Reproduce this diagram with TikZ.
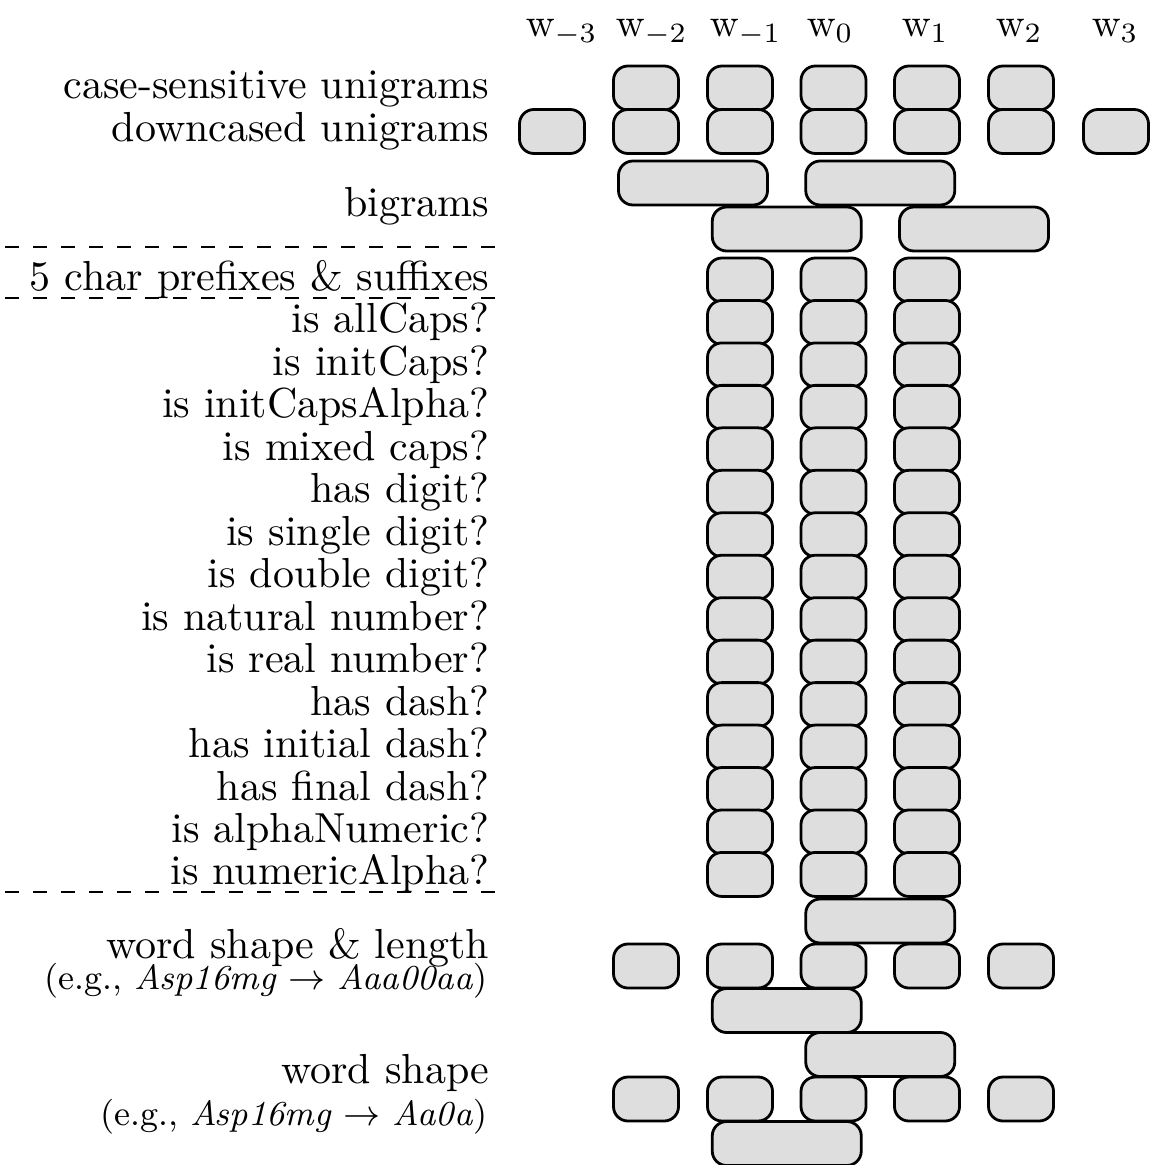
\documentclass[tikz,border=0pt]{standalone}
\definecolor{boxgray}{RGB}{222,222,222}
\begin{document}
\begin{tikzpicture}[x=0.25pt,y=-0.25pt,
  ubox/.style={draw, line width=0.7pt, fill=boxgray, rounded corners=3.6pt, minimum width=16.25pt, minimum height=11pt, inner sep=0pt},
  bbox/.style={ubox, minimum width=37.25pt},
  lab/.style={anchor=base east, inner sep=0pt, font=\fontsize{10.5}{12}\selectfont},
  exlab/.style={anchor=base east, inner sep=0pt, font=\fontsize{8.75}{10}\selectfont},
  hdr/.style={anchor=base west, inner sep=0pt, font=\fontsize{10.2}{12}\selectfont},
  sep/.style={line width=0.5pt, dash pattern=on 3.5pt off 3.5pt}]
\useasboundingbox (0,0) rectangle (1151,1165);
% column centres
\def\cma{552}\def\cmb{646}\def\cmc{740}\def\cz{833.5}\def\cpa{927}\def\cpb{1021}\def\cpc{1116}
% headers
\node[hdr] (h-3) at (525,37) {$\mathrm{w}_{-3}$};
\node[hdr] (h-2) at (615,37) {$\mathrm{w}_{-2}$};
\node[hdr] (h-1) at (709,37) {$\mathrm{w}_{-1}$};
\node[hdr] (h0)  at (806,37) {$\mathrm{w}_{0}$};
\node[hdr] (h1)  at (901,37) {$\mathrm{w}_{1}$};
\node[hdr] (h2)  at (995,37) {$\mathrm{w}_{2}$};
\node[hdr] (h3)  at (1091,37) {$\mathrm{w}_{3}$};
% unigram rows
\node[lab] (lcs) at (490,98.5) {case-sensitive unigrams};
\node[lab] (ldc) at (490,142) {downcased unigrams};
\foreach \c/\n in {\cmb/b,\cmc/c,\cz/z,\cpa/pa,\cpb/pb}{
  \node[ubox] (cs\n) at (\c,88) {};
}
\foreach \c/\n in {\cma/a,\cmb/b,\cmc/c,\cz/z,\cpa/pa,\cpb/pb,\cpc/pc}{
  \node[ubox] (dc\n) at (\c,131.5) {};
}
% bigrams
\node[lab] (lbg) at (490,217) {bigrams};
\node[bbox] (bg1a) at (693,183) {};
\node[bbox] (bg1b) at (880.25,183) {};
\node[bbox] (bg2a) at (786.75,229) {};
\node[bbox] (bg2b) at (974,229) {};
% separators
\coordinate (s1a) at (5,247); \coordinate (s1b) at (505,247);
\coordinate (s2a) at (5,298); \coordinate (s2b) at (505,298);
\coordinate (s3a) at (5,892); \coordinate (s3b) at (505,892);
\draw[sep] (s1a) -- (s1b);
\draw[sep] (s2a) -- (s2b);
\draw[sep] (s3a) -- (s3b);
% character-level rows
\foreach \t [count=\i from 0] in {5 char prefixes \& suffixes, is allCaps?, is initCaps?, is initCapsAlpha?, is mixed caps?, has digit?, is single digit?, is double digit?, is natural number?, is real number?, has dash?, has initial dash?, has final dash?, is alphaNumeric?, is numericAlpha?}{
  \pgfmathsetmacro\yy{280+42.46*\i}
  \pgfmathsetmacro\yb{\yy+10.5}
  \node[lab] (lr\i) at (490,\yb) {\t};
  \node[ubox] (ra\i) at (\cmc,\yy) {};
  \node[ubox] (rb\i) at (\cz,\yy) {};
  \node[ubox] (rc\i) at (\cpa,\yy) {};
}
% word shape & length
\node[lab] (lwsl) at (490,958) {word shape \& length};
\node[exlab] (lwsle) at (488,989) {(e.g., \textit{Asp16mg} $\rightarrow$ \textit{Aaa00aa})};
\node[bbox] (wslt) at (880.25,921) {};
\foreach \c/\n in {\cmb/b,\cmc/c,\cz/z,\cpa/pa,\cpb/pb}{
  \node[ubox] (wsl\n) at (\c,966) {};
}
\node[bbox] (wslb) at (786.75,1010.5) {};
% word shape
\node[lab] (lws) at (490,1083) {word shape};
\node[exlab] (lwse) at (488,1125) {(e.g., \textit{Asp16mg} $\rightarrow$ \textit{Aa0a})};
\node[bbox] (wst) at (880.25,1054.5) {};
\foreach \c/\n in {\cmb/b,\cmc/c,\cz/z,\cpa/pa,\cpb/pb}{
  \node[ubox] (ws\n) at (\c,1099) {};
}
\node[bbox] (wsb) at (786.75,1143.5) {};
\end{tikzpicture}
\end{document}
